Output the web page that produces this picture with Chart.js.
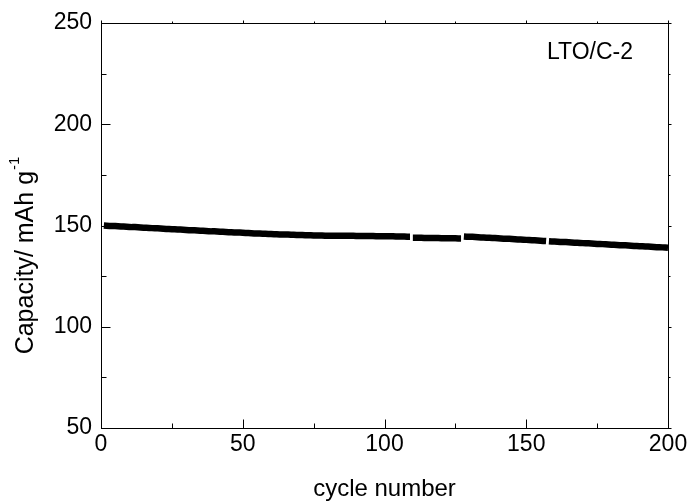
<!DOCTYPE html>
<html>
<head>
<meta charset="utf-8">
<script src="https://cdn.jsdelivr.net/npm/chart.js@4.4.1/dist/chart.umd.min.js"></script>
<style>
  html, body { margin: 0; padding: 0; background: #fff; }
  #wrap { width: 691px; height: 502px; }
</style>
</head>
<body>
<div id="wrap"><canvas id="c" width="691" height="502"></canvas></div>
<script>
// ---- data ----
const xTicks = [0, 50, 100, 150, 200];
const yTicks = [50, 100, 150, 200, 250];
const xMinorTicks = [25, 75, 125, 175];
const yMinorTicks = [75, 125, 175, 225];
const sampleLabel = "LTO/C-2";
const xTitle = "cycle number";
const yTitle = "Capacity/ mAh g";
const yTitleSup = "-1";

// capacity (mAh g-1) for cycles 1..200
const capacity = [
  150.0,149.9,149.8,149.8,149.7,149.6,149.5,149.5,149.4,149.3,
  149.2,149.2,149.1,149.0,148.9,148.9,148.8,148.7,148.6,148.6,
  148.5,148.4,148.3,148.3,148.2,148.1,148.0,148.0,147.9,147.8,
  147.7,147.7,147.6,147.5,147.4,147.4,147.3,147.2,147.1,147.1,
  147.0,146.9,146.9,146.8,146.7,146.7,146.6,146.5,146.5,146.4,
  146.3,146.3,146.2,146.1,146.1,146.0,145.9,145.9,145.8,145.8,
  145.7,145.7,145.6,145.6,145.5,145.5,145.4,145.4,145.3,145.3,
  145.3,145.2,145.2,145.2,145.1,145.1,145.1,145.1,145.0,145.0,
  145.0,145.0,145.0,144.9,144.9,144.9,144.9,144.9,144.9,144.8,
  144.8,144.8,144.8,144.8,144.8,144.8,144.7,144.7,144.7,144.7,
  144.7,144.7,144.7,144.6,144.6,144.6,144.6,144.5,144.5,
  143.9,143.9,143.9,143.9,143.8,143.8,143.8,143.8,143.8,143.8,
  143.7,143.7,143.7,143.7,143.7,143.7,143.6,143.6,
  144.6,144.5,144.5,144.4,144.3,144.2,144.1,144.1,144.0,143.9,
  143.8,143.8,143.7,143.6,143.5,143.4,143.4,143.3,143.2,143.1,
  143.1,143.0,142.9,142.8,142.7,142.7,142.6,142.5,142.4,142.3,
  142.2,142.1,142.1,142.0,141.9,141.8,141.8,141.7,141.6,141.5,
  141.5,141.4,141.3,141.2,141.2,141.1,141.0,140.9,140.9,140.8,
  140.7,140.6,140.5,140.5,140.4,140.3,140.2,140.2,140.1,140.0,
  139.9,139.9,139.8,139.7,139.6,139.6,139.5,139.4,139.3,139.3,
  139.2,139.1,139.0
];
// first cycle of each recorded segment (small breaks between them)
const segmentStarts = [1, 110, 128, 158];
const firstCycle = 1;

// ---- build datasets ----
const FONT = "'Liberation Sans', Arial, Helvetica, sans-serif";
const datasets = segmentStarts.map((start, i) => {
  const end = i + 1 < segmentStarts.length ? segmentStarts[i + 1] - 1 : firstCycle + capacity.length - 1;
  const pts = [];
  for (let c = start; c <= end; c++) pts.push({ x: c, y: capacity[c - firstCycle] });
  return {
    data: pts,
    borderColor: '#000',
    backgroundColor: '#000',
    borderWidth: 6.5,
    borderCapStyle: 'butt',
    pointRadius: 0,
    tension: 0,
    fill: false
  };
});

const frame = {
  id: 'frame',
  afterDraw(chart) {
    const { ctx, chartArea: a, scales } = chart;
    const xs = scales.x, ys = scales.y;
    ctx.save();
    ctx.strokeStyle = '#000';
    ctx.lineWidth = 1;
    const L = Math.round(a.left) + 0.5, R = Math.round(a.right) + 0.5;
    const T = Math.round(a.top) + 0.5, B = Math.round(a.bottom) + 0.5;
    ctx.strokeRect(L, T, R - L, B - T);
    ctx.beginPath();
    const tick = (vals, len, outLen) => {
      vals.forEach(v => {
        const px = Math.round(xs.getPixelForValue(v)) + 0.5;
        ctx.moveTo(px, B); ctx.lineTo(px, B - len);
        ctx.moveTo(px, T); ctx.lineTo(px, T - outLen);
      });
    };
    const ticky = (vals, len, outLen) => {
      vals.forEach(v => {
        const py = Math.round(ys.getPixelForValue(v)) + 0.5;
        ctx.moveTo(L, py); ctx.lineTo(L + len, py);
        ctx.moveTo(R, py); ctx.lineTo(R + outLen, py);
      });
    };
    tick(xTicks, 9, 3); tick(xMinorTicks, 5, 2);
    ticky(yTicks, 9, 3); ticky(yMinorTicks, 5, 2);
    ctx.stroke();

    ctx.fillStyle = '#000';
    // x title
    ctx.font = '24px ' + FONT;
    ctx.textAlign = 'center';
    ctx.textBaseline = 'middle';
    ctx.fillText(xTitle, (a.left + a.right) / 2, 489);
    // y title with superscript
    ctx.save();
    ctx.translate(24, 256);
    ctx.rotate(-Math.PI / 2);
    ctx.font = '25px ' + FONT;
    const w1 = ctx.measureText(yTitle).width;
    ctx.font = '15px ' + FONT;
    const w2 = ctx.measureText(yTitleSup).width;
    const start = -(w1 + w2) / 2;
    ctx.textAlign = 'left';
    ctx.textBaseline = 'alphabetic';
    ctx.font = '25px ' + FONT;
    ctx.fillText(yTitle, start, 9);
    ctx.font = '15px ' + FONT;
    ctx.fillText(yTitleSup, start + w1 + 1, -5);
    ctx.restore();
    // sample label
    ctx.font = '23px ' + FONT;
    ctx.textAlign = 'left';
    ctx.textBaseline = 'middle';
    ctx.fillText(sampleLabel, 547, 53);
    ctx.restore();
  }
};

new Chart(document.getElementById('c'), {
  type: 'line',
  data: { datasets },
  options: {
    responsive: false,
    devicePixelRatio: 1,
    animation: false,
    layout: { padding: { top: 23, right: 23, left: 0, bottom: 0 } },
    plugins: { legend: { display: false }, tooltip: { enabled: false } },
    scales: {
      x: {
        type: 'linear', min: 0, max: 200,
        afterBuildTicks: s => { s.ticks = xTicks.map(v => ({ value: v })); },
        afterFit: s => { s.height = 74; },
        grid: { display: false, drawTicks: false },
        border: { display: false },
        ticks: { color: '#000', font: { family: FONT, size: 23 }, padding: 3, maxRotation: 0 }
      },
      y: {
        min: 50, max: 250,
        afterBuildTicks: s => { s.ticks = yTicks.map(v => ({ value: v })); },
        afterFit: s => { s.width = 101; },
        grid: { display: false, drawTicks: false },
        border: { display: false },
        ticks: { color: '#000', font: { family: FONT, size: 23 }, padding: 9 }
      }
    }
  },
  plugins: [frame]
});
</script>
</body>
</html>
